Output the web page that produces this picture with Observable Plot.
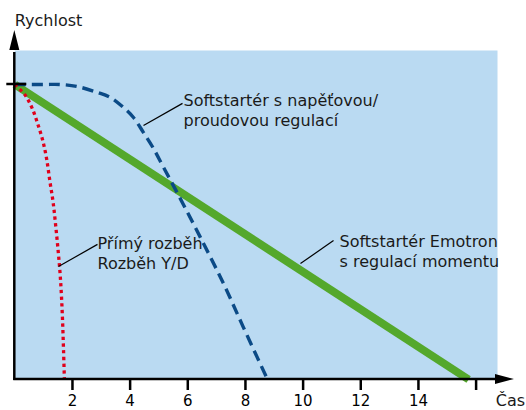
<!DOCTYPE html>
<html>
<head>
<meta charset="utf-8">
<script src="https://cdn.jsdelivr.net/npm/d3@7"></script>
<script src="https://cdn.jsdelivr.net/npm/@observablehq/plot@0.6"></script>
<style>
  html, body { margin: 0; padding: 0; background: #fff; }
  #chart svg { display: block; font-family: "DejaVu Sans", sans-serif; }
</style>
</head>
<body>
<div id="chart"></div>
<script>
// ---- data ----
const xTicks = [2, 4, 6, 8, 10, 12, 14, 16];
const xTickLabels = ["2", "4", "6", "8", "10", "12", "14", ""];
const yTicks = [1];

// Softstartér Emotron s regulací momentu (linear)
const emotronT = [0, 15.74];
const emotronV = [1, 0];

// Softstartér s napěťovou/proudovou regulací (dashed)
const voltageT = [0, 1.0, 1.585, 2.175, 2.869, 3.319, 3.77, 4.117, 4.464, 4.811, 5.158, 5.644, 6.441, 7.239, 7.933, 8.765];
const voltageV = [1, 1.0, 1.0, 0.993, 0.973, 0.956, 0.922, 0.888, 0.837, 0.783, 0.719, 0.631, 0.481, 0.325, 0.176, 0];

// Přímý rozběh / Rozběh Y/D (dotted)
const directT = [0, 0.35, 0.6, 0.8, 0.97, 1.1, 1.22, 1.33, 1.42, 1.5, 1.57, 1.62, 1.66, 1.69, 1.72];
const directV = [1, 0.965, 0.92, 0.865, 0.81, 0.75, 0.67, 0.6, 0.52, 0.44, 0.36, 0.28, 0.19, 0.1, 0];

// annotations
const labelTexts = ["Softstartér s napěťovou/\nproudovou regulací", "Přímý rozběh\nRozběh Y/D", "Softstartér Emotron\ns regulací momentu"];
const labelT = [5.852, 2.868, 11.263];
const labelV = [0.861, 0.376, 0.380];
const leaderT1 = [4.464, 1.516, 9.909];
const leaderV1 = [0.861, 0.383, 0.393];
const leaderT2 = [5.817, 2.868, 11.054];
const leaderV2 = [0.936, 0.458, 0.471];

const yAxisTitle = "Rychlost";
const xAxisTitle = "Čas";

// ---- tables ----
const toRows = (T, V) => T.map((t, i) => ({t, v: V[i]}));
const emotron = toRows(emotronT, emotronV);
const voltage = toRows(voltageT, voltageV);
const direct = toRows(directT, directV);
const labelsData = labelTexts.map((s, i) => ({s, t: labelT[i], v: labelV[i]}));
const leaders = leaderT1.map((t, i) => ({t1: t, v1: leaderV1[i], t2: leaderT2[i], v2: leaderV2[i]}));

// axes with arrows (drawn in pixel space from the scales)
function axesMark(index, scales, values, dimensions) {
  const {x, y} = scales;
  const {width, height, marginTop, marginRight} = dimensions;
  const g = d3.create("svg:g").attr("stroke", "#000").attr("fill", "#000");
  const x0 = x(0), y0 = y(0);
  const topBase = marginTop, topTip = marginTop - 20;
  const rightBase = width - marginRight - 2, rightTip = width - marginRight + 17;
  g.append("line").attr("x1", x0).attr("x2", x0).attr("y1", y0 + 1).attr("y2", topBase + 2)
    .attr("stroke-width", 2.5);
  g.append("path").attr("stroke", "none")
    .attr("d", `M${x0 - 5},${topBase}L${x0},${topTip}L${x0 + 5},${topBase}Z`);
  g.append("line").attr("x1", x0 - 1).attr("x2", rightBase + 2).attr("y1", y0).attr("y2", y0)
    .attr("stroke-width", 2.5);
  g.append("path").attr("stroke", "none")
    .attr("d", `M${rightBase},${y0 - 5}L${rightTip},${y0}L${rightBase},${y0 + 5}Z`);
  for (const v of yTicks) {
    g.append("line").attr("x1", x0 - 8).attr("x2", x0 + 12).attr("y1", y(v)).attr("y2", y(v))
      .attr("stroke-width", 2.5);
  }
  return g.node();
}

const chart = Plot.plot({
  width: 526,
  height: 410,
  marginLeft: 14.3,
  marginRight: 29,
  marginTop: 50,
  marginBottom: 31,
  x: {domain: [0, 16], range: [14.3, 475.6]},
  y: {domain: [0, 1], range: [379, 84], axis: null},
  style: {fontFamily: "DejaVu Sans, sans-serif", fontSize: "16px", color: "#000", background: "#fff"},
  marks: [
    Plot.frame({fill: "#badaf2", stroke: "none"}),
    Plot.line(emotron, {x: "t", y: "v", stroke: "#54a82c", strokeWidth: 8, strokeLinecap: "butt"}),
    Plot.line(voltage, {x: "t", y: "v", stroke: "#0b4a86", strokeWidth: 3.4, strokeDasharray: "11,6", strokeLinecap: "butt", curve: "catmull-rom"}),
    Plot.line(direct, {x: "t", y: "v", stroke: "#e0001b", strokeWidth: 3.3, strokeDasharray: "3.3,3.4", strokeLinecap: "butt", curve: "catmull-rom"}),
    Plot.link(leaders, {x1: "t1", y1: "v1", x2: "t2", y2: "v2", stroke: "#000", strokeWidth: 1.2}),
    Plot.text(labelsData, {x: "t", y: "v", text: "s", textAnchor: "start", lineAnchor: "bottom", lineHeight: 1.25, fontSize: 16, fill: "#1a1a1a"}),
    Plot.axisX({ticks: xTicks, tickFormat: (d) => xTickLabels[xTicks.indexOf(d)], tickSize: 11, tickPadding: 5, fontSize: 15, strokeWidth: 2.5, label: null}),
    axesMark,
    Plot.text([yAxisTitle], {frameAnchor: "top-left", textAnchor: "start", lineAnchor: "bottom", dx: 0, dy: -25, fontSize: 16, fill: "#1a1a1a"}),
    Plot.text([xAxisTitle], {frameAnchor: "bottom-right", textAnchor: "middle", lineAnchor: "bottom", dx: 13, dy: 26, fontSize: 16, fill: "#1a1a1a"})
  ]
});
document.getElementById("chart").appendChild(chart);
</script>
</body>
</html>
